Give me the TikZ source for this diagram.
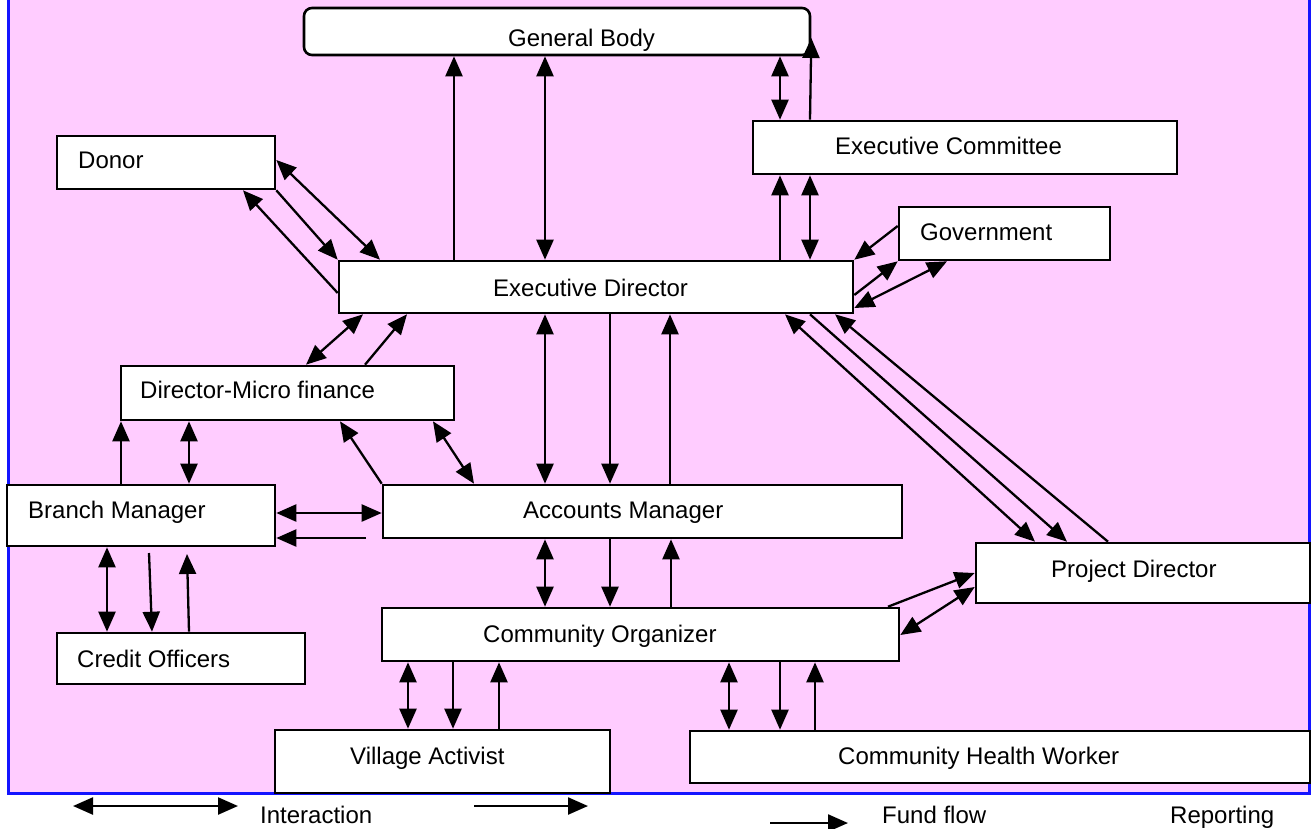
\documentclass[tikz,border=0pt]{standalone}
\usepackage{fontspec}
\setmainfont{Liberation Sans}
\usetikzlibrary{arrows.meta,calc}
\definecolor{bgpink}{RGB}{255,204,255}
\definecolor{frameblue}{RGB}{20,20,255}
\begin{document}
\begin{tikzpicture}[x=1pt,y=-1pt,
  box/.style={draw=black, fill=white, line width=2.6pt, rectangle, inner sep=0pt},
  lbl/.style={anchor=base west, inner sep=0pt, font=\fontsize{24}{28}\selectfont},
  conn/.style={line width=2.3pt},
  tipa/.tip={Triangle[length=20pt 0 0,width=17pt 0 0]},
  one/.style={conn, -tipa},
  two/.style={conn, tipa-tipa}]
\useasboundingbox (0,0) rectangle (1316,828);
% background
\fill[bgpink] (8,-5) rectangle (1309,793);
\draw[frameblue, line width=3pt] (8,-5) -- (8,793) -- (1309,793) -- (1309,-5);

% boxes
\node[box, minimum width=506pt, minimum height=47pt, rounded corners=8pt] (gb) at (557,31.5) {};
\node[lbl] (gbt) at (508,46) {General Body};
\node[box, minimum width=424pt, minimum height=53pt] (ec) at (965,147.5) {};
\node[lbl] (ect) at (835,154) {Executive Committee};
\node[box, minimum width=218pt, minimum height=53pt] (donor) at (166,162.5) {};
\node[lbl] (donort) at (78,168) {Donor};
\node[box, minimum width=211pt, minimum height=53pt] (gov) at (1004.5,233.5) {};
\node[lbl] (govt) at (920,240) {Government};
\node[box, minimum width=514pt, minimum height=52pt] (ed) at (596,287) {};
\node[lbl] (edt) at (493,296) {Executive Director};
\node[box, minimum width=333pt, minimum height=54pt] (dmf) at (287.5,393) {};
\node[lbl] (dmft) at (140,398) {Director-Micro finance};
\node[box, minimum width=268pt, minimum height=61pt] (bm) at (141,515.5) {};
\node[lbl] (bmt) at (28,518) {Branch Manager};
\node[box, minimum width=519pt, minimum height=53pt] (am) at (642.5,511.5) {};
\node[lbl] (amt) at (523,518) {Accounts Manager};
\node[box, minimum width=334pt, minimum height=60pt] (pd) at (1143,573) {};
\node[lbl] (pdt) at (1051,577) {Project Director};
\node[box, minimum width=517pt, minimum height=53pt] (co) at (640.5,634.5) {};
\node[lbl] (cot) at (483,642) {Community Organizer};
\node[box, minimum width=248pt, minimum height=51pt] (cro) at (181,658.5) {};
\node[lbl] (crot) at (77,667) {Credit Officers};
\node[box, minimum width=335pt, minimum height=63pt] (va) at (442.5,761.5) {};
\node[lbl] (vat) at (350,764) {Village Activist};
\node[box, minimum width=620pt, minimum height=52pt] (chw) at (1000,757) {};
\node[lbl] (chwt) at (838,764) {Community Health Worker};

% ED - General Body
\draw[one] (ed.north -| 454,0) -- (gb.south -| 454,0);
\draw[two] (ed.north -| 545,0) -- (gb.south -| 545,0);
% EC - General Body
\draw[two] (ec.north -| 780,0) -- (gb.south -| 780,0);
\draw[one] (ec.north -| 810,0) -- (gb.east |- 0,38);
% ED - EC
\draw[one] (ed.north -| 780,0) -- (ec.south -| 780,0);
\draw[two] (ed.north -| 810,0) -- (ec.south -| 810,0);
% ED - Government
\draw[one] (gov.west |- 0,226) -- (ed.north east);
\draw[one] (ed.east |- 0,295) -- (gov.south west);
\draw[two] (ed.east |- 0,308) -- (gov.south -| 947,0);
% Donor - ED
\draw[two] (donor.east |- 0,160) -- (ed.north -| 380,0);
\draw[one] (donor.south east) -- (ed.north west);
\draw[one] (ed.west |- 0,293) -- (donor.south -| 243,0);
% DMF - ED
\draw[two] (dmf.north -| 306,0) -- (ed.south -| 363,0);
\draw[one] (dmf.north -| 365,0) -- (ed.south -| 407,0);
% ED - AM
\draw[two] (ed.south -| 545,0) -- (am.north -| 545,0);
\draw[one] (ed.south -| 610,0) -- (am.north -| 610,0);
\draw[one] (am.north -| 670,0) -- (ed.south -| 670,0);
% AM - DMF
\draw[one] (am.north west) -- (dmf.south -| 340,0);
\draw[two] (dmf.south -| 433,0) -- (am.north -| 474,0);
% BM - DMF
\draw[one] (bm.north -| 121,0) -- (dmf.south -| 121,0);
\draw[two] (bm.north -| 189,0) -- (dmf.south -| 189,0);
% BM - AM
\draw[two] (bm.east |- 0,513) -- (am.west |- 0,513);
\coordinate (amfree) at (366,538);
\draw[one] (amfree) -- (bm.east |- 0,538);
% BM - Credit Officers
\draw[two] (bm.south -| 107,0) -- (cro.north -| 107,0);
\coordinate (bmfree) at (149,553);
\draw[one] (bmfree) -- (cro.north -| 152,0);
\coordinate (crofree) at (187,554);
\draw[one] (cro.north -| 189,0) -- (crofree);
% ED - PD
\draw[two] (ed.south -| 785,0) -- (pd.north -| 1035,0);
\draw[one] (ed.south -| 810,0) -- (pd.north -| 1067,0);
\draw[one] (pd.north -| 1108,0) -- (ed.south -| 835,0);
% CO - PD
\draw[one] (co.north -| 888,0) -- (pd.west |- 0,573);
\draw[two] (co.east |- 0,635) -- (pd.west |- 0,587);
% AM - CO
\draw[two] (am.south -| 545,0) -- (co.north -| 545,0);
\draw[one] (am.south -| 610,0) -- (co.north -| 610,0);
\draw[one] (co.north -| 671,0) -- (am.south -| 671,0);
% CO - VA
\draw[two] (co.south -| 408,0) -- (va.north -| 408,0);
\draw[one] (co.south -| 453,0) -- (va.north -| 453,0);
\draw[one] (va.north -| 499,0) -- (co.south -| 499,0);
% CO - CHW
\draw[two] (co.south -| 729,0) -- (chw.north -| 729,0);
\draw[one] (co.south -| 780,0) -- (chw.north -| 780,0);
\draw[one] (chw.north -| 815,0) -- (co.south -| 815,0);

% legend
\coordinate (la) at (73,806);
\coordinate (lb) at (238,806);
\draw[two] (la) -- (lb);
\node[lbl] (lint) at (260,823) {Interaction};
\coordinate (lc) at (474,806);
\coordinate (ld) at (588,806);
\draw[one] (lc) -- (ld);
\coordinate (le) at (770,823);
\coordinate (lf) at (848,823);
\draw[one] (le) -- (lf);
\node[lbl] (lfund) at (882,823) {Fund flow};
\node[lbl] (lrep) at (1170,823) {Reporting};
\end{tikzpicture}
\end{document}
